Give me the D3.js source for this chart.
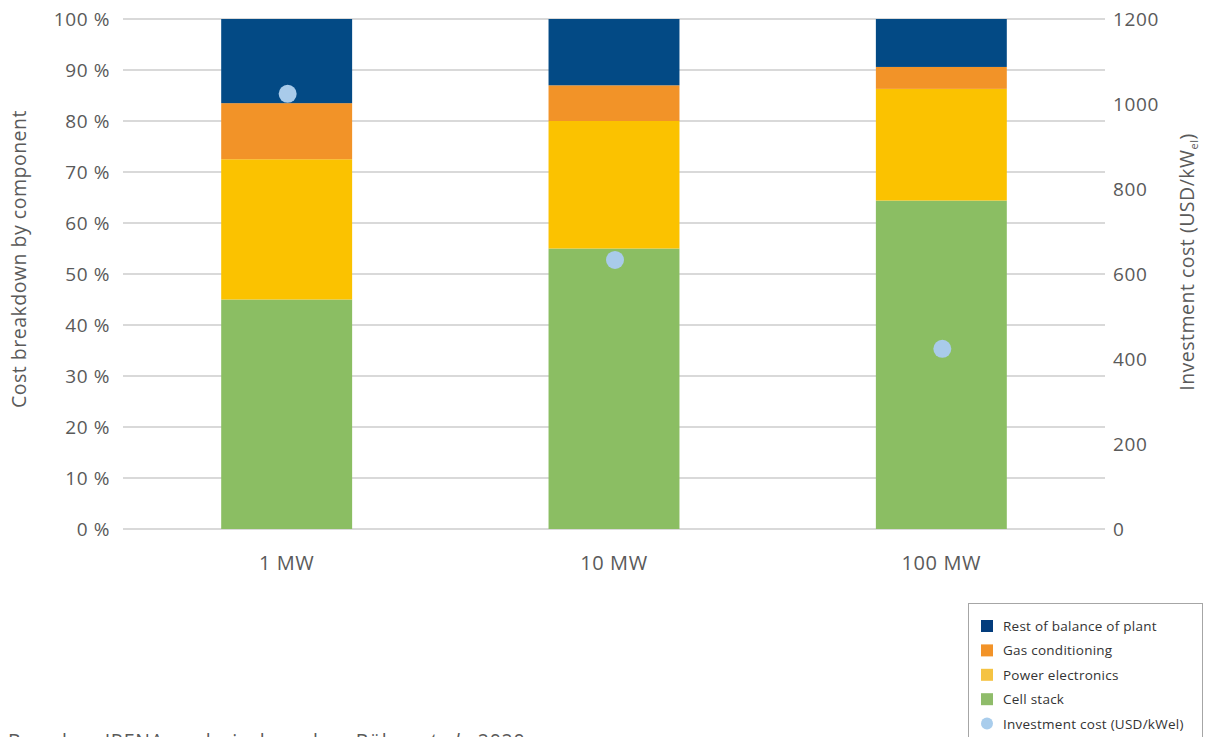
<!DOCTYPE html>
<html>
<head>
<meta charset="utf-8">
<script src="https://cdn.jsdelivr.net/npm/d3@7"></script>
<style>
  html, body { margin: 0; padding: 0; background: #fff; }
  svg { display: block; font-family: "Open Sans", "Noto Sans", sans-serif; }
</style>
</head>
<body>
<svg id="chart" width="1207" height="737"></svg>
<script>
// ---- data ----
const categories = ["1 MW", "10 MW", "100 MW"];
const cellStack = [45, 55, 64.4];
const powerElectronics = [27.5, 25, 21.9];
const gasConditioning = [11, 7, 4.3];
const restOfBalance = [16.5, 13, 9.4];
const investmentCost = [1024, 633, 424];
const leftTicks = [0, 10, 20, 30, 40, 50, 60, 70, 80, 90, 100];
const rightTicks = [0, 200, 400, 600, 800, 1000, 1200];
const seriesNames = ["Cell stack", "Power electronics", "Gas conditioning", "Rest of balance of plant"];
const seriesColors = ["#8bbe63", "#fbc200", "#f29328", "#034a85"];
const legendItems = ["Rest of balance of plant", "Gas conditioning", "Power electronics", "Cell stack", "Investment cost (USD/kWel)"];
const legendColors = ["#033c7c", "#f29328", "#f5c342", "#8fbc6a", "#a9cdec"];
const dotColor = "#a9cbea";

(function () {
// ---- layout ----
const svg = d3.select("#chart");
const mLeft = 123, mRight = 1105, mTop = 19, mBottom = 529;

const x = d3.scaleBand().domain(categories).range([mLeft, mRight]).paddingInner(0.6).paddingOuter(0.3);
const y = d3.scaleLinear().domain([0, 100]).range([mBottom, mTop]);
const y2 = d3.scaleLinear().domain([0, 1200]).range([mBottom, mTop]);

const textColor = "#5a5a5a";

// gridlines
svg.append("g").selectAll("line").data(leftTicks).join("line")
  .attr("x1", mLeft).attr("x2", mRight)
  .attr("y1", d => y(d)).attr("y2", d => y(d))
  .attr("stroke", "#d9d9d9").attr("stroke-width", 2);

// left axis
const yAxis = d3.axisLeft(y).tickValues(leftTicks).tickFormat(d => d + " %").tickSize(0).tickPadding(13);
const gy = svg.append("g").attr("transform", `translate(${mLeft},0)`).call(yAxis);
gy.select(".domain").remove();
gy.selectAll("text").attr("font-size", 19).attr("letter-spacing", 0.6).attr("fill", textColor).attr("font-family", "\"Open Sans\", sans-serif");

// right axis
const y2Axis = d3.axisRight(y2).tickValues(rightTicks).tickFormat(d => d).tickSize(0).tickPadding(8);
const gy2 = svg.append("g").attr("transform", `translate(${mRight},0)`).call(y2Axis);
gy2.select(".domain").remove();
gy2.selectAll("text").attr("font-size", 19).attr("letter-spacing", 0.6).attr("fill", textColor).attr("font-family", "\"Open Sans\", sans-serif");

// x axis
const xAxis = d3.axisBottom(x).tickSize(0).tickPadding(27);
const gx = svg.append("g").attr("transform", `translate(0,${mBottom})`).call(xAxis);
gx.select(".domain").remove();
gx.selectAll("text").attr("font-size", 20).attr("letter-spacing", 0.6).attr("fill", textColor).attr("font-family", "\"Open Sans\", sans-serif");

// stacked bars
const rows = categories.map((c, i) => ({
  cat: c,
  "Cell stack": cellStack[i],
  "Power electronics": powerElectronics[i],
  "Gas conditioning": gasConditioning[i],
  "Rest of balance of plant": restOfBalance[i]
}));
const stack = d3.stack().keys(seriesNames)(rows);
svg.append("g").selectAll("g").data(stack).join("g")
  .attr("fill", (d, i) => seriesColors[i])
  .selectAll("rect").data(d => d).join("rect")
  .attr("x", d => x(d.data.cat))
  .attr("width", x.bandwidth())
  .attr("y", d => y(d[1]))
  .attr("height", d => y(d[0]) - y(d[1]));

// investment cost dots
svg.append("g").selectAll("circle").data(investmentCost).join("circle")
  .attr("cx", (d, i) => x(categories[i]) + x.bandwidth() / 2 + 1)
  .attr("cy", d => y2(d))
  .attr("r", 9)
  .attr("fill", dotColor);

// axis titles
svg.append("text")
  .attr("transform", `translate(26,${(mTop + mBottom) / 2 - 15}) rotate(-90)`)
  .attr("text-anchor", "middle")
  .attr("font-size", 19.5).attr("letter-spacing", 0.5).attr("fill", textColor)
  .text("Cost breakdown by component");

const rt = svg.append("text")
  .attr("transform", `translate(1194,${(mTop + mBottom) / 2 - 12}) rotate(-90)`)
  .attr("text-anchor", "middle")
  .attr("font-size", 19.5).attr("letter-spacing", 0.5).attr("fill", textColor);
rt.append("tspan").text("Investment cost (USD/kW");
rt.append("tspan").attr("font-size", 11).attr("dy", 4).text("el");
rt.append("tspan").attr("dy", -4).text(")");

// legend
const lg = svg.append("g");
lg.append("rect").attr("x", 968.5).attr("y", 603.5).attr("width", 234).attr("height", 140)
  .attr("fill", "#fff").attr("stroke", "#a6a6a6").attr("stroke-width", 1);
legendItems.forEach((name, i) => {
  const cy = 626 + i * 24.4;
  if (i < 4) {
    lg.append("rect").attr("x", 981).attr("y", cy - 6).attr("width", 12).attr("height", 12).attr("fill", legendColors[i]);
  } else {
    lg.append("circle").attr("cx", 987).attr("cy", cy).attr("r", 6).attr("fill", legendColors[i]);
  }
  lg.append("text").attr("x", 1003).attr("y", cy + 5)
    .attr("font-size", 13.5).attr("letter-spacing", 0.25).attr("fill", "#333").text(name);
});

// source note
const note = svg.append("text").attr("x", 8).attr("y", 748).attr("font-size", 19.5).attr("letter-spacing", 0.8).attr("fill", textColor);
note.append("tspan").text("Based on IRENA analysis, based on Böhm ");
note.append("tspan").attr("font-style", "italic").text("et al.");
note.append("tspan").text(", 2020.");
})();
</script>
</body>
</html>
